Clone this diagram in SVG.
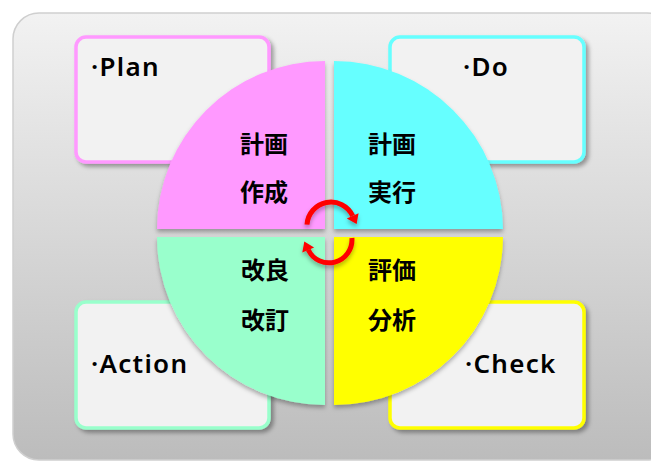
<svg xmlns="http://www.w3.org/2000/svg" width="651" height="463" viewBox="0 0 651 463">
<defs>
  <linearGradient id="bg" x1="0" y1="0" x2="0" y2="1">
    <stop offset="0" stop-color="#f2f2f2"/>
    <stop offset="1" stop-color="#bcbcbc"/>
  </linearGradient>
  <filter id="sh" x="-10%" y="-10%" width="130%" height="130%">
    <feDropShadow dx="3" dy="3" stdDeviation="2" flood-color="#000" flood-opacity="0.35"/>
  </filter>
  <filter id="shq" x="-10%" y="-10%" width="130%" height="130%">
    <feDropShadow dx="0" dy="3" stdDeviation="2" flood-color="#000" flood-opacity="0.3"/>
  </filter>
  <style>
    .box { fill: #f2f2f2; stroke-width: 3.5; filter: url(#sh); }
    .lbl { font-family: "Noto Sans", "Liberation Sans", sans-serif; font-size: 26px; font-weight: 600; letter-spacing: 1.3px; fill: #000; }
    .jp { font-family: "Noto Sans CJK JP", sans-serif; font-size: 24px; font-weight: 700; fill: #000; }
    .arc { fill: none; stroke: #ff0000; stroke-width: 5; }
    .head { fill: #ff0000; }
  </style>
</defs>
<rect x="13" y="13" width="660" height="447" rx="26" fill="url(#bg)" stroke="#cfcfcf" stroke-width="1.5"/>

<g id="plan">
  <rect class="box" x="76" y="37" width="193" height="125" rx="10" stroke="#ff99ff"/>
  <text class="lbl" x="91" y="76">·Plan</text>
</g>
<g id="do">
  <rect class="box" x="390" y="37" width="194" height="125" rx="10" stroke="#66ffff"/>
  <text class="lbl" x="463" y="76">·Do</text>
</g>
<g id="action">
  <rect class="box" x="76" y="302" width="193" height="126" rx="10" stroke="#99ffcc"/>
  <text class="lbl" x="91" y="373">·Action</text>
</g>
<g id="check">
  <rect class="box" x="390" y="302" width="194" height="126" rx="10" stroke="#ffff00"/>
  <text class="lbl" x="465" y="373">·Check</text>
</g>

<g id="q-plan">
  <path d="M325,229 L157,229 A168,168 0 0 1 325,61 Z" fill="#ff99ff" filter="url(#shq)"/>
  <text class="jp" x="240" y="153">計画</text>
  <text class="jp" x="240" y="201">作成</text>
</g>
<g id="q-do">
  <path d="M334,229 L334,61 A169,169 0 0 1 503,229 Z" fill="#66ffff" filter="url(#shq)"/>
  <text class="jp" x="368" y="153">計画</text>
  <text class="jp" x="368" y="201">実行</text>
</g>
<g id="q-action">
  <path d="M325,237 L325,405 A168,168 0 0 1 157,237 Z" fill="#99ffcc" filter="url(#shq)"/>
  <text class="jp" x="241" y="279">改良</text>
  <text class="jp" x="241" y="329">改訂</text>
</g>
<g id="q-check">
  <path d="M334,237 L503,237 A169,169 0 0 1 334,405 Z" fill="#ffff00" filter="url(#shq)"/>
  <text class="jp" x="368" y="279">評価</text>
  <text class="jp" x="368" y="329">分析</text>
</g>

<g id="connectors" filter="url(#shq)">
  <path class="arc" d="M307,224.7 A24,24 0 0 1 352.7,215.9"/>
  <polygon class="head" points="356.6,224 358.6,213.2 346.8,218.6"/>
  <path class="arc" d="M351.9,238 A23,23 0 0 1 308.2,249.7"/>
  <polygon class="head" points="304.3,241.6 314.1,247.4 302.3,252.4"/>
</g>
</svg>
